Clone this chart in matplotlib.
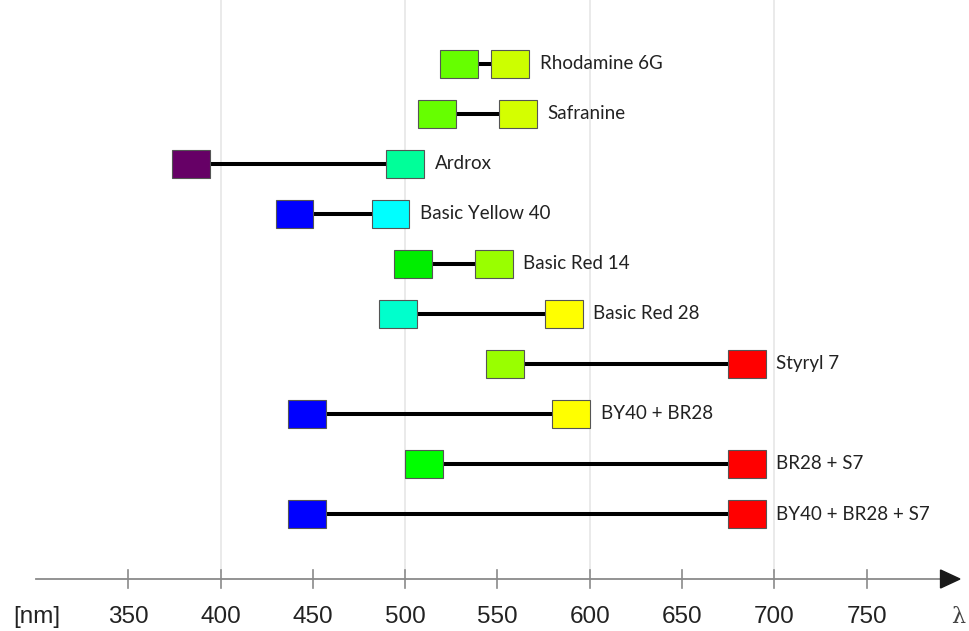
import matplotlib
matplotlib.use("Agg")
import matplotlib.pyplot as plt
from matplotlib.patches import Rectangle, Polygon

# dyes: excitation / emission peaks (nm)
names = ["Rhodamine 6G", "Safranine", "Ardrox", "Basic Yellow 40", "Basic Red 14",
         "Basic Red 28", "Styryl 7", "BY40 + BR28", "BR28 + S7", "BY40 + BR28 + S7"]
left_nm = [529, 517, 384, 440, 504, 496, 554, 447, 510, 447]
right_nm = [557, 561, 500, 492, 548, 586, 685, 590, 685, 685]
left_colors = ["#66ff00", "#66ff00", "#660066", "#0000ff", "#00ee00",
               "#00ffcc", "#99ff00", "#0000ff", "#00ff00", "#0000ff"]
right_colors = ["#ccff00", "#d4ff00", "#00ff99", "#00ffff", "#99ff00",
                "#ffff00", "#ff0000", "#ffff00", "#ff0000", "#ff0000"]

ticks = [350, 400, 450, 500, 550, 600, 650, 700, 750]
grid_nm = [400, 500, 600, 700]
axis_start, axis_end = 300, 790

box_w = 20.5   # nm
box_h = 0.56   # row units
px_per_nm = 1.846
row_px = 50.0

fig = plt.figure(figsize=(9.69, 6.31), dpi=100)
ax = fig.add_axes([0, 0, 1, 1])
x0 = 280.5
ax.set_xlim(x0, x0 + 969 / px_per_nm)
ax.set_ylim((631 - 64) / row_px, -64 / row_px)
ax.axis('off')

y_axis = (579 - 64) / row_px
y_lab = (617 - 64) / row_px

for g in grid_nm:
    ax.plot([g, g], [-2, y_axis - 0.15], color='#e8e8e8', lw=1.3, zorder=0)

for i, name in enumerate(names):
    l, r = left_nm[i], right_nm[i]
    ax.plot([l, r], [i, i], color='k', lw=2.9, solid_capstyle='butt', zorder=2)
    ax.add_patch(Rectangle((l - box_w / 2, i - box_h / 2), box_w, box_h,
                           facecolor=left_colors[i], edgecolor='#555555', lw=0.8, zorder=3))
    ax.add_patch(Rectangle((r - box_w / 2, i - box_h / 2), box_w, box_h,
                           facecolor=right_colors[i], edgecolor='#555555', lw=0.8, zorder=3))
    ax.annotate(name, (r + box_w / 2, i), xytext=(7.5, 0), textcoords='offset points',
                va='center', ha='left', fontsize=13.5, family='Lato', color='#222222')

# wavelength axis with arrow
ax.plot([axis_start, axis_end], [y_axis, y_axis], color='#8a8a8a', lw=1.3, zorder=1)
head_h = 0.18
ax.add_patch(Polygon([[axis_end, y_axis - head_h], [axis_end, y_axis + head_h],
                      [axis_end + 10.5, y_axis]], closed=True, color='#1a1a1a', zorder=2))
for t in ticks:
    ax.plot([t, t], [y_axis - 0.18, y_axis + 0.18], color='#8a8a8a', lw=1.2, zorder=1)
    ax.text(t, y_lab, str(t), ha='center', va='center', fontsize=17.5,
            family='Liberation Sans', color='#222222')

ax.text(x0 + 37 / px_per_nm, y_lab, "[nm]", ha='center', va='center', fontsize=17.5,
        family='Liberation Sans', color='#222222')
ax.text(x0 + 958 / px_per_nm, y_lab, "λ", ha='center', va='center', fontsize=16,
        family='DejaVu Serif', color='#444444')

fig.savefig("out.png", dpi=100)
